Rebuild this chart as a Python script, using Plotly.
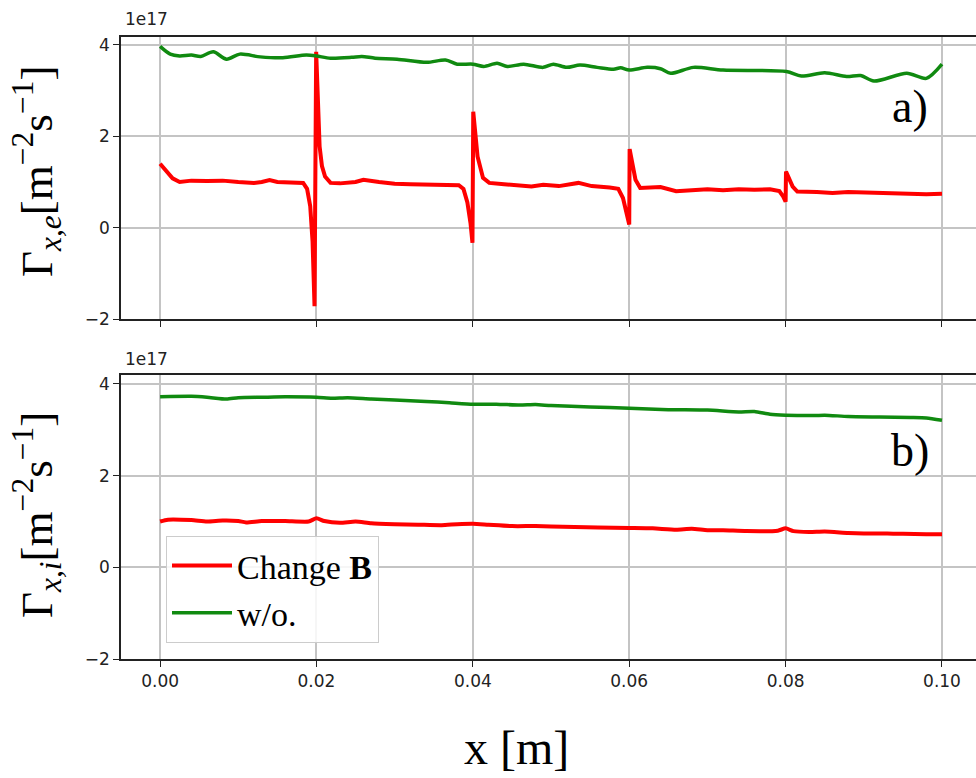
import plotly.graph_objects as go

# ---------------- data (values in units of 1e17 m^-2 s^-1) ----------------
top_red_x = [0.0000, 0.0008, 0.0016, 0.0025, 0.0040, 0.0060, 0.0080, 0.0100, 0.0120, 0.0130,
             0.0140, 0.0150, 0.0170, 0.0183, 0.0188, 0.0192, 0.0195, 0.0197, 0.01975, 0.01996,
             0.0202, 0.0204, 0.0207, 0.0211, 0.0218, 0.0230, 0.0250, 0.0260, 0.0280, 0.0300,
             0.0320, 0.0340, 0.0360, 0.0382, 0.0388, 0.0393, 0.0397, 0.03995, 0.04005, 0.0406,
             0.0413, 0.0421, 0.0440, 0.0460, 0.0475, 0.0490, 0.0510, 0.0535, 0.0552, 0.0575,
             0.0586, 0.0592, 0.0597, 0.0600, 0.06005, 0.0608, 0.0614, 0.0640, 0.0660, 0.0680,
             0.0700, 0.0720, 0.0740, 0.0760, 0.0780, 0.0792, 0.0797, 0.0800, 0.08005, 0.0809,
             0.0815, 0.0840, 0.0860, 0.0880, 0.0900, 0.0920, 0.0940, 0.0960, 0.0980, 0.1000]
top_red_y = [1.40, 1.25, 1.08, 1.00, 1.03, 1.02, 1.03, 1.00, 0.98, 1.00,
             1.04, 1.00, 0.98, 0.98, 0.85, 0.47, -0.30, -1.10, -1.72, 3.85,
             2.60, 1.78, 1.35, 1.12, 0.98, 0.97, 1.00, 1.05, 1.00, 0.96,
             0.95, 0.94, 0.95, 0.93, 0.85, 0.55, 0.10, -0.33, 2.54, 1.56,
             1.09, 0.98, 0.95, 0.92, 0.90, 0.94, 0.91, 0.98, 0.91, 0.88,
             0.85, 0.65, 0.30, 0.07, 1.72, 1.05, 0.87, 0.89, 0.80, 0.82,
             0.84, 0.82, 0.84, 0.83, 0.84, 0.80, 0.68, 0.57, 1.23, 0.90,
             0.79, 0.78, 0.76, 0.78, 0.77, 0.74, 0.75, 0.74, 0.73, 0.74]

top_green_x = [0.0000, 0.0013, 0.0025, 0.0040, 0.0052, 0.0068, 0.0085, 0.0102, 0.0128, 0.0157,
               0.0187, 0.0200, 0.0218, 0.0245, 0.0258, 0.0275, 0.0303, 0.0341, 0.0365, 0.0380,
               0.0400, 0.0414, 0.0431, 0.0444, 0.0465, 0.0490, 0.0503, 0.0520, 0.0537, 0.0559,
               0.0580, 0.0589, 0.0600, 0.0623, 0.0640, 0.0653, 0.0682, 0.0720, 0.0801, 0.0820,
               0.0850, 0.0878, 0.0896, 0.0913, 0.0955, 0.0980, 0.1000]
top_green_y = [3.97, 3.80, 3.76, 3.78, 3.75, 3.85, 3.69, 3.80, 3.74, 3.72,
               3.78, 3.76, 3.71, 3.73, 3.75, 3.71, 3.69, 3.62, 3.67, 3.58,
               3.58, 3.53, 3.60, 3.53, 3.58, 3.51, 3.58, 3.51, 3.56, 3.51,
               3.47, 3.50, 3.45, 3.51, 3.48, 3.38, 3.51, 3.45, 3.42, 3.32,
               3.39, 3.31, 3.33, 3.21, 3.38, 3.27, 3.58]

bot_red_x = [0.000, 0.001, 0.004, 0.006, 0.008, 0.010, 0.011, 0.013, 0.016, 0.019,
             0.020, 0.021, 0.023, 0.025, 0.027, 0.030, 0.033, 0.036, 0.038, 0.040,
             0.042, 0.045, 0.048, 0.050, 0.053, 0.056, 0.060, 0.063, 0.066, 0.068,
             0.070, 0.072, 0.075, 0.079, 0.080, 0.081, 0.083, 0.085, 0.088, 0.090,
             0.093, 0.095, 0.098, 0.100]
bot_red_y = [1.00, 1.04, 1.03, 1.00, 1.02, 1.01, 0.98, 1.01, 1.01, 1.00,
             1.07, 1.01, 0.97, 1.00, 0.96, 0.94, 0.93, 0.92, 0.94, 0.95,
             0.93, 0.90, 0.90, 0.89, 0.88, 0.87, 0.86, 0.85, 0.82, 0.84,
             0.81, 0.81, 0.79, 0.80, 0.85, 0.79, 0.77, 0.78, 0.75, 0.74,
             0.74, 0.73, 0.72, 0.72]

bot_green_x = [0.000, 0.004, 0.006, 0.0085, 0.010, 0.013, 0.016, 0.020, 0.022, 0.024,
               0.027, 0.030, 0.034, 0.037, 0.040, 0.043, 0.046, 0.048, 0.050, 0.055,
               0.060, 0.065, 0.070, 0.074, 0.076, 0.078, 0.080, 0.083, 0.085, 0.088,
               0.092, 0.096, 0.098, 0.100]
bot_green_y = [3.72, 3.73, 3.71, 3.67, 3.70, 3.71, 3.72, 3.71, 3.69, 3.70,
               3.67, 3.65, 3.62, 3.59, 3.56, 3.56, 3.54, 3.55, 3.53, 3.50,
               3.47, 3.44, 3.43, 3.39, 3.40, 3.34, 3.32, 3.31, 3.32, 3.29,
               3.28, 3.27, 3.26, 3.21]

x_ticks = [0.00, 0.02, 0.04, 0.06, 0.08, 0.10]
x_tick_labels = ["0.00", "0.02", "0.04", "0.06", "0.08", "0.10"]
y_ticks = [-2, 0, 2, 4]
y_tick_labels = ["\u22122", "0", "2", "4"]
series_names = ["Change <b>B</b>", "w/o."]
panel_labels = ["a)", "b)"]
y_titles = ["\u0393<sub><i>x,e</i></sub>[m<sup>\u22122</sup>s<sup>\u22121</sup>]",
            "\u0393<sub><i>x,i</i></sub>[m<sup>\u22122</sup>s<sup>\u22121</sup>]"]
offset_label = "1e17"

RED = "#ff0000"
GREEN = "#108a10"

fig = go.Figure()
fig.add_trace(go.Scatter(x=top_red_x, y=top_red_y, mode="lines", line=dict(color=RED, width=4),
                         xaxis="x", yaxis="y", showlegend=False))
fig.add_trace(go.Scatter(x=top_green_x, y=top_green_y, mode="lines",
                         line=dict(color=GREEN, width=3.5, shape="spline", smoothing=0.8),
                         xaxis="x", yaxis="y", showlegend=False))
fig.add_trace(go.Scatter(x=bot_red_x, y=bot_red_y, mode="lines",
                         line=dict(color=RED, width=4, shape="spline", smoothing=0.6),
                         xaxis="x2", yaxis="y2", name=series_names[0]))
fig.add_trace(go.Scatter(x=bot_green_x, y=bot_green_y, mode="lines",
                         line=dict(color=GREEN, width=3.5, shape="spline", smoothing=0.6),
                         xaxis="x2", yaxis="y2", name=series_names[1]))

W, H = 976, 778
ML, MR, MT, MB = 121, 0, 37, 119
PH = H - MT - MB

xr = [-0.005, 0.10435]
tick_font = dict(family="DejaVu Sans", size=17, color="#222222")
common_x = dict(range=xr, tickmode="array", tickvals=x_ticks, ticktext=x_tick_labels,
                showgrid=True, gridcolor="#c4c4c4", gridwidth=1.5, zeroline=False,
                showline=True, linecolor="#222222", linewidth=1.5, mirror=True,
                ticks="outside", ticklen=6, tickwidth=1.2, tickcolor="#222222",
                tickfont=tick_font)
common_y = dict(tickmode="array", tickvals=y_ticks, ticktext=y_tick_labels,
                showgrid=True, gridcolor="#c4c4c4", gridwidth=1.5, zeroline=False,
                showline=True, linecolor="#222222", linewidth=1.5, mirror=False,
                ticks="outside", ticklen=6, tickwidth=1.2, tickcolor="#222222",
                tickfont=tick_font)

top_dom = [(659 - 319) / PH, 1.0]
bot_dom = [0.0, (659 - 375) / PH]

fig.update_layout(
    width=W, height=H,
    margin=dict(l=ML, r=MR, t=MT, b=MB),
    paper_bgcolor="white", plot_bgcolor="white",
    xaxis=dict(common_x, domain=[0, 1], anchor="y", showticklabels=False),
    yaxis=dict(common_y, domain=top_dom, anchor="x", range=[-2, 4.175]),
    xaxis2=dict(common_x, domain=[0, 1], anchor="y2", showticklabels=True),
    yaxis2=dict(common_y, domain=bot_dom, anchor="x2", range=[-2, 4.196]),
    legend=dict(x=(166 - ML) / (W - ML), y=(659 - 536) / PH, xanchor="left", yanchor="top",
                bgcolor="rgba(255,255,255,0.85)", bordercolor="#cccccc", borderwidth=1,
                font=dict(family="Liberation Serif", size=34, color="black"),
                itemwidth=60, tracegroupgap=0),
)

def px_to_paper_x(px):
    return (px - ML) / (W - ML)

def py_to_paper_y(py):
    return (H - MB - py) / PH

ann = []
# offset labels
for yy in (19, 359):
    ann.append(dict(text=offset_label, x=px_to_paper_x(123), y=py_to_paper_y(yy), xref="paper", yref="paper",
                    xanchor="left", yanchor="middle", showarrow=False,
                    font=dict(family="DejaVu Sans", size=17, color="#222222")))
# panel labels
for lbl, yy in zip(panel_labels, (106, 450)):
    ann.append(dict(text=lbl, x=px_to_paper_x(910), y=py_to_paper_y(yy), xref="paper", yref="paper",
                    xanchor="center", yanchor="middle", showarrow=False,
                    font=dict(family="Liberation Serif", size=46, color="black")))
# y titles
for t, yy in zip(y_titles, (172, 515)):
    ann.append(dict(text=t, x=px_to_paper_x(36), y=py_to_paper_y(yy), xref="paper", yref="paper",
                    xanchor="center", yanchor="middle", showarrow=False, textangle=-90,
                    font=dict(family="Liberation Serif", size=45, color="black")))
# x title
ann.append(dict(text="x [m]", x=px_to_paper_x(516), y=py_to_paper_y(747), xref="paper", yref="paper",
                xanchor="center", yanchor="middle", showarrow=False,
                font=dict(family="Liberation Serif", size=48, color="black")))
fig.update_layout(annotations=ann)

fig.write_html("out.html")
